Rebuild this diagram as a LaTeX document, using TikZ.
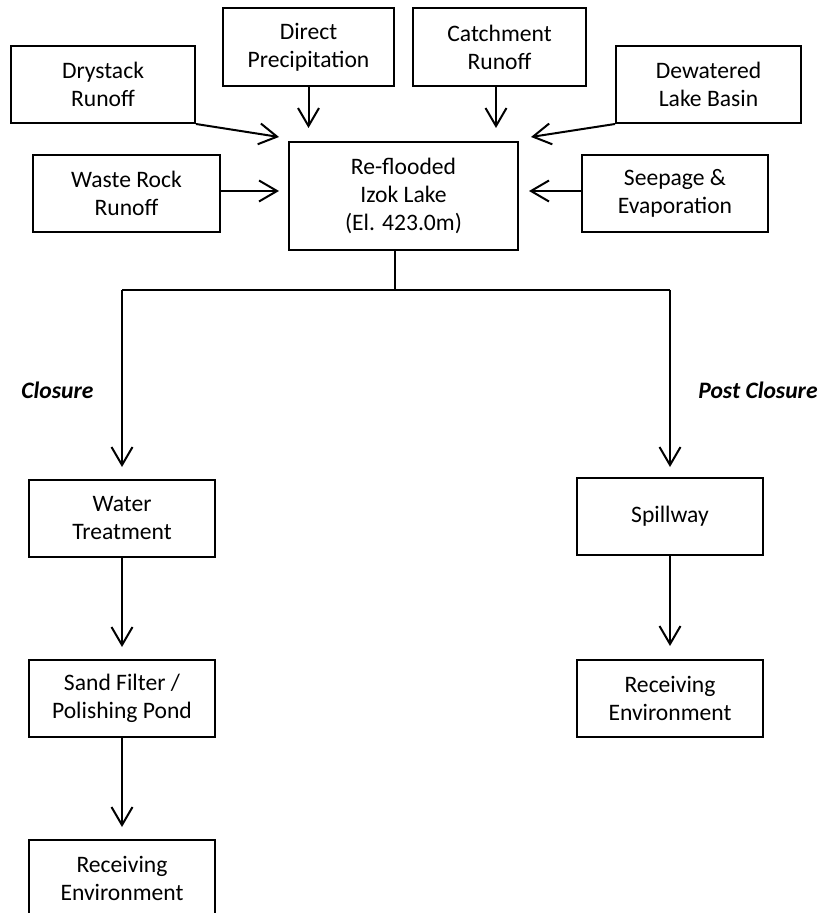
\documentclass[tikz,border=0pt]{standalone}
\usepackage{fontspec}
\setmainfont{Carlito}
\usetikzlibrary{arrows.meta}
\begin{document}
\begin{tikzpicture}[x=0.5pt,y=-0.5pt,
  box/.style={draw,line width=1pt,align=center,inner sep=0pt,font=\fontsize{11.8}{14}\selectfont},
  arr/.style={line width=1pt,-{Straight Barb[length=9pt,width=10.5pt,line width=1pt]}},
  branch/.style={line width=0.75pt},
  lbl/.style={font=\fontsize{11.8}{14}\selectfont\bfseries\itshape}]
\useasboundingbox (0,0) rectangle (828,913);
% boxes
\node[box,minimum width=92pt,minimum height=38.5pt] (dry) at (103,84.5) {Drystack\\Runoff};
\node[box,minimum width=85.5pt,minimum height=39pt] (direct) at (308.5,47) {Direct\\Precipitation};
\node[box,minimum width=86.5pt,minimum height=39pt] (catch) at (499.5,47) {Catchment\\Runoff};
\node[box,minimum width=92.5pt,minimum height=38.5pt] (dew) at (708.5,84.5) {Dewatered\\Lake Basin};
\node[box,minimum width=93.5pt,minimum height=38.5pt] (waste) at (126.5,193.5) {Waste Rock\\Runoff};
\node[box,minimum width=93pt,minimum height=38.5pt] (seep) at (675,193.5) {Seepage \&\\Evaporation};
\node[box,minimum width=114.5pt,minimum height=54pt] (lake) at (403.5,196) {Re-flooded\\Izok Lake\\(El. 423.0m)};
\node[box,minimum width=93pt,minimum height=38.5pt] (water) at (122,518.5) {Water\\Treatment};
\node[box,minimum width=93pt,minimum height=38.5pt] (sand) at (122,698.5) {Sand Filter /\\Polishing Pond};
\node[box,minimum width=93pt,minimum height=38.5pt] (recv1) at (122,878.5) {Receiving\\Environment};
\node[box,minimum width=93pt,minimum height=38.5pt] (spill) at (670,516.5) {Spillway};
\node[box,minimum width=93pt,minimum height=38.5pt] (recv2) at (670,698.5) {Receiving\\Environment};
% labels
\node[lbl] (closure) at (57.5,390) {Closure};
\node[lbl] (post) at (758,390) {Post Closure};
% free ends
\coordinate (dryend) at (279,137);
\coordinate (dewend) at (531,137);
\coordinate (wasteend) at (279,191);
\coordinate (seepend) at (529,191);
\coordinate (directend) at (308.5,128);
\coordinate (catchend) at (496,128);
\coordinate (split) at (395,290);
\coordinate (splitL) at (122,290);
\coordinate (splitR) at (670,290);
% inflow arrows
\draw[arr] (dry.south east) -- (dryend);
\draw[arr] (direct.south) -- (directend);
\draw[arr] (catch.south -| catchend) -- (catchend);
\draw[arr] (dew.south west) -- (dewend);
\draw[arr] (waste.east |- wasteend) -- (wasteend);
\draw[arr] (seep.west |- seepend) -- (seepend);
% branch
\draw[branch] (lake.south -| split) -- (split);
\draw[branch] (splitL) -- (splitR);
\draw[arr,shorten >=6pt] (splitL) -- (water.north);
\draw[arr,shorten >=5pt] (splitR) -- (spill.north);
\draw[arr,shorten >=6pt] (water.south) -- (sand.north);
\draw[arr,shorten >=6pt] (sand.south) -- (recv1.north);
\draw[arr,shorten >=6.5pt] (spill.south) -- (recv2.north);
\end{tikzpicture}
\end{document}
